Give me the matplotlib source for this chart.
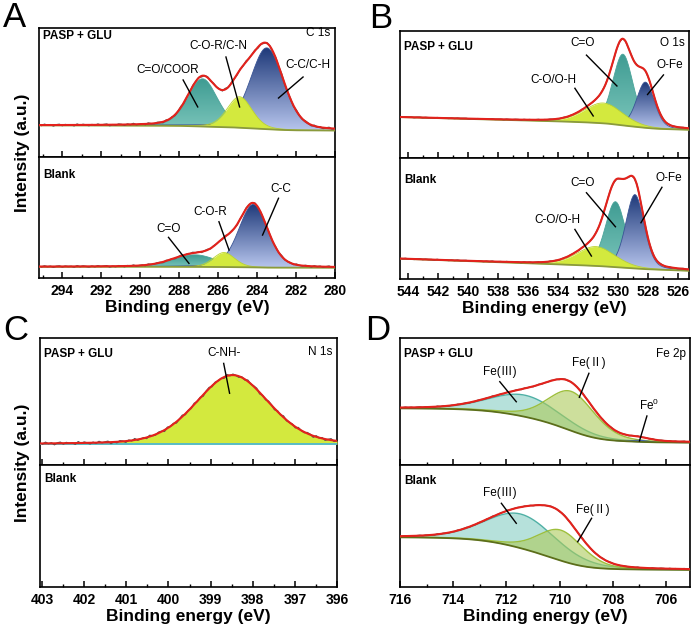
import numpy as np
import matplotlib
matplotlib.use("Agg")
import matplotlib.pyplot as plt
from matplotlib.colors import LinearSegmentedColormap
from matplotlib.ticker import MultipleLocator

plt.rcParams['font.family'] = ['Liberation Sans', 'Noto Sans CJK SC', 'DejaVu Sans']
plt.rcParams['mathtext.fontset'] = 'custom'
plt.rcParams['mathtext.rm'] = 'Liberation Sans'

# ---- fit parameters (y in panel fraction) ----
# C 1s
c1s_top_center = [286.8, 284.9, 283.5]
c1s_top_height = [0.37, 0.24, 0.63]
c1s_top_fwhm = [1.8, 1.5, 2.0]
c1s_top_bg = [0.205, 0.035, 0.005]   # low level, shirley step, linear tilt
c1s_bot_center = [287.2, 285.7, 284.2]
c1s_bot_height = [0.10, 0.12, 0.52]
c1s_bot_fwhm = [2.6, 1.3, 1.75]
c1s_bot_bg = [0.085, 0.008, 0.0]
c1s_styles = ['teal', 'lime', 'blue']

# O 1s
o1s_top_center = [531.0, 529.7, 528.2]
o1s_top_height = [0.16, 0.56, 0.36]
o1s_top_fwhm = [3.0, 1.6, 1.4]
o1s_top_bg = [0.222, 0.04, 0.06]
o1s_bot_center = [531.5, 530.2, 528.9]
o1s_bot_height = [0.16, 0.54, 0.61]
o1s_bot_fwhm = [3.0, 1.6, 1.45]
o1s_bot_bg = [0.068, 0.015, 0.085]
o1s_styles = ['lime', 'teal', 'blue']

# N 1s
n1s_top_center = [398.48]
n1s_top_height = [0.545]
n1s_top_fwhm = [2.05]
n1s_top_bg = [0.163, 0.0, 0.0]
n1s_styles = ['lime']

# Fe 2p
fe_top_center = [711.3, 709.55, 707.0]
fe_top_height = [0.17, 0.31, 0.02]
fe_top_fwhm = [3.1, 2.1, 1.0]
fe_top_bg = [0.176, 0.27, 0.0]
fe_top_styles = ['fe3', 'fe2', 'fe0']
fe_bot_center = [711.45, 709.95]
fe_bot_height = [0.28, 0.25]
fe_bot_fwhm = [3.1, 2.0]
fe_bot_bg = [0.14, 0.267, 0.0]
fe_bot_styles = ['fe3', 'fe2']

# hand-read wiggle of the raw spectrum (relative units)
raw_noise = [0.2, -0.6, 0.9, 0.1, -0.8, 0.5, -0.2, 0.7, -0.9, 0.3,
             0.6, -0.4, -0.1, 0.8, -0.7, 0.4, 0.0, -0.5, 0.9, -0.3,
             0.5, -0.8, 0.2, 0.6, -0.6, 0.1, -0.9, 0.7, 0.3, -0.2,
             0.8, -0.5, 0.4, -0.7, 0.0, 0.6, -0.3, 0.9, -0.8, 0.2,
             -0.1, 0.5, -0.6, 0.7, 0.3, -0.9, 0.4, -0.2, 0.8, -0.4]

# annotations: (text, text_x, text_y, line_x0, line_y0, line_x1, line_y1)
c1s_top_notes = [('C=O/COOR', 288.6, 0.674, 287.8, 0.597, 287.05, 0.388),
                 ('C-O-R/C-N', 286.0, 0.86, 285.6, 0.775, 284.9, 0.388),
                 ('C-C/C-H', 281.4, 0.713, 281.64, 0.62, 282.9, 0.457)]
c1s_bot_notes = [('C=O', 288.55, 0.405, 288.55, 0.336, 287.5, 0.121),
                 ('C-O-R', 286.4, 0.543, 285.96, 0.465, 285.44, 0.231),
                 ('C-C', 282.8, 0.733, 282.9, 0.659, 283.72, 0.355)]
o1s_top_notes = [('C=O', 532.4, 0.903, 532.13, 0.81, 530.1, 0.567),
                 ('C-O/O-H', 534.3, 0.614, 532.9, 0.549, 531.68, 0.331),
                 ('O-Fe', 526.6, 0.732, 527.0, 0.654, 528.06, 0.50)]
o1s_bot_notes = [('C=O', 532.4, 0.79, 532.13, 0.713, 530.2, 0.432),
                 ('C-O/O-H', 534.05, 0.488, 532.9, 0.41, 531.8, 0.19),
                 ('O-Fe', 526.67, 0.832, 527.1, 0.758, 528.5, 0.465)]
n1s_top_notes = [('C-NH-', 398.67, 0.88, 398.69, 0.80, 398.55, 0.565)]
fe_top_notes = [('Fe(Ⅲ)', 712.25, 0.735, 712.25, 0.656, 711.63, 0.498),
                ('Fe(Ⅱ)', 708.9, 0.80, 708.9, 0.722, 709.26, 0.533),
                ('Fe$^{\\mathregular{0}}$', 706.64, 0.472, 706.72, 0.386, 707.0, 0.189)]
fe_bot_notes = [('Fe(Ⅲ)', 712.25, 0.768, 712.19, 0.686, 711.63, 0.522),
                ('Fe(Ⅱ)', 708.76, 0.631, 708.8, 0.563, 709.32, 0.371)]


def gl(E, c, h, w, m=0.25):
    x = (E - c) / w
    return h * ((1 - m) * np.exp(-4 * np.log(2) * x ** 2) + m / (1 + 4 * x ** 2))


def grad_fill(ax, E, lo, hi, c_top, c_bot, z):
    poly = ax.fill_between(E, lo, hi, facecolor='none', edgecolor='none', zorder=z)
    cmap = LinearSegmentedColormap.from_list('g', [c_bot, c_top])
    grad = np.linspace(0, 1, 256).reshape(-1, 1)
    im = ax.imshow(grad, extent=[E.min(), E.max(), lo.min(), hi.max()], origin='lower',
                   aspect='auto', cmap=cmap, zorder=z, interpolation='bilinear')
    im.set_clip_path(poly.get_paths()[0], transform=ax.transData)


def spectrum(ax, xlim, centers, heights, fwhms, bgp, styles, noise_amp, bg_color):
    E = np.linspace(min(xlim), max(xlim), 700)
    comps = [gl(E, c, h, w) for c, h, w in zip(centers, heights, fwhms)]
    total = np.sum(comps, axis=0)
    cum = np.cumsum(total)
    bg = bgp[0] + bgp[1] * cum / cum[-1] + bgp[2] * (E - E[0]) / (E[-1] - E[0])
    for i, (comp, st) in enumerate(zip(comps, styles)):
        z = 2 + i
        hi = bg + comp
        if st == 'blue':
            grad_fill(ax, E, bg, hi, '#1f3a7a', '#b8c6ee', z)
            ax.plot(E, hi, color='#3a5596', lw=0.6, zorder=z)
        elif st == 'teal':
            grad_fill(ax, E, bg, hi, '#3f9c93', '#7cc6bb', z)
            ax.plot(E, hi, color='#4aa49a', lw=0.6, zorder=z)
        elif st == 'lime':
            # the lime component sits in front of the others
            ax.fill_between(E, bg, hi, color='#d3e93e', lw=0, zorder=5.5)
            ax.plot(E, hi, color='#bcd42c', lw=0.6, zorder=5.5)
        elif st == 'fe3':
            ax.fill_between(E, bg, hi, color='#86cec4', alpha=0.6, lw=0, zorder=z)
            ax.plot(E, hi, color='#4fb0a5', lw=1.0, zorder=z)
        elif st == 'fe2':
            ax.fill_between(E, bg, hi, color='#acca5a', alpha=0.6, lw=0, zorder=z)
            ax.plot(E, hi, color='#9ebf3c', lw=1.0, zorder=z)
        elif st == 'fe0':
            ax.fill_between(E, bg, hi, color='#4565b0', lw=0, zorder=z)
    ax.plot(E, bg, color=bg_color, lw=1.3, zorder=6)
    env = bg + total
    Er = E[::7]
    noise = np.resize(np.array(raw_noise), len(Er))
    ax.plot(Er, env[::7] + noise_amp * noise, color='#555555', lw=1.0, zorder=7)
    ax.plot(E, env, color='#e3221c', lw=1.5, zorder=8)


def notes(ax, items):
    for t, tx, ty, x0, y0, x1, y1 in items:
        ax.text(tx, ty, t, fontsize=8.5, ha='center', va='center', zorder=10)
        ax.plot([x0, x1], [y0, y1], color='black', lw=1.0, zorder=10)


def style_axis(ax, xlim, major, minor, labels):
    ax.set_xlim(xlim)
    ax.set_ylim(0, 1)
    ax.set_yticks([])
    ax.xaxis.set_major_locator(MultipleLocator(major))
    ax.xaxis.set_minor_locator(MultipleLocator(minor))
    ax.tick_params(axis='x', which='major', direction='in', length=4, width=1.1,
                   labelsize=10, pad=4, labelbottom=labels)
    ax.tick_params(axis='x', which='minor', direction='in', length=2.5, width=1.0)
    for lab in ax.get_xticklabels():
        lab.set_fontweight('bold')
    for s in ax.spines.values():
        s.set_linewidth(1.2)
    if labels:
        ax.set_xlabel('Binding energy (eV)', fontsize=12.5, fontweight='bold', labelpad=2)


fig = plt.figure(figsize=(6.93, 6.3), dpi=100)

panels = [
    # letter, letter pos, left, width, top bottom/height, bottom bottom/height, xlim, major, minor
    ('A', (0.004, 0.957), 0.0563, 0.4271, (0.7508, 0.2048), (0.5587, 0.1921), (295.2, 280), 2, 1),
    ('B', (0.533, 0.955), 0.5772, 0.4170, (0.7492, 0.2016), (0.5571, 0.1921), (544.55, 525.3), 2, 1),
    ('C', (0.004, 0.460), 0.0577, 0.4286, (0.2619, 0.2016), (0.0683, 0.1936), (403.05, 396), 1, 0.5),
    ('D', (0.527, 0.460), 0.5772, 0.4185, (0.2619, 0.2016), (0.0683, 0.1936), (716, 705.1), 2, 1),
]

axes = {}
for letter, lpos, left, width, tb, bb, xlim, mj, mn in panels:
    axt = fig.add_axes([left, tb[0], width, tb[1]])
    axb = fig.add_axes([left, bb[0], width, bb[1]])
    axes[letter] = (axt, axb, xlim, mj, mn)
    fig.text(lpos[0], lpos[1], letter, fontsize=25, va='baseline', ha='left')

# A: C 1s
axt, axb, xl, mj, mn = axes['A']
spectrum(axt, xl, c1s_top_center, c1s_top_height, c1s_top_fwhm, c1s_top_bg, c1s_styles, 0.008, '#8a9a3c')
spectrum(axb, xl, c1s_bot_center, c1s_bot_height, c1s_bot_fwhm, c1s_bot_bg, c1s_styles, 0.007, '#8a9a3c')
notes(axt, c1s_top_notes)
notes(axb, c1s_bot_notes)
axt.text(0.015, 0.915, 'PASP + GLU', transform=axt.transAxes, fontsize=8.5, fontweight='bold')
axt.text(0.985, 0.935, 'C 1s', transform=axt.transAxes, fontsize=8.5, ha='right')
axb.text(0.015, 0.826, 'Blank', transform=axb.transAxes, fontsize=8.5, fontweight='bold')

# B: O 1s
axt, axb, xl, mj, mn = axes['B']
spectrum(axt, xl, o1s_top_center, o1s_top_height, o1s_top_fwhm, o1s_top_bg, o1s_styles, 0.003, '#8a9a3c')
spectrum(axb, xl, o1s_bot_center, o1s_bot_height, o1s_bot_fwhm, o1s_bot_bg, o1s_styles, 0.004, '#8a9a3c')
notes(axt, o1s_top_notes)
notes(axb, o1s_bot_notes)
axt.text(0.015, 0.85, 'PASP + GLU', transform=axt.transAxes, fontsize=8.5, fontweight='bold')
axt.text(0.985, 0.88, 'O 1s', transform=axt.transAxes, fontsize=8.5, ha='right')
axb.text(0.015, 0.79, 'Blank', transform=axb.transAxes, fontsize=8.5, fontweight='bold')

# C: N 1s
axt, axb, xl, mj, mn = axes['C']
spectrum(axt, xl, n1s_top_center, n1s_top_height, n1s_top_fwhm, n1s_top_bg, n1s_styles, 0.012, '#4fb8d0')
notes(axt, n1s_top_notes)
axt.text(0.015, 0.853, 'PASP + GLU', transform=axt.transAxes, fontsize=8.5, fontweight='bold')
axt.text(0.985, 0.866, 'N 1s', transform=axt.transAxes, fontsize=8.5, ha='right')
axb.text(0.015, 0.863, 'Blank', transform=axb.transAxes, fontsize=8.5, fontweight='bold')

# D: Fe 2p
axt, axb, xl, mj, mn = axes['D']
spectrum(axt, xl, fe_top_center, fe_top_height, fe_top_fwhm, fe_top_bg, fe_top_styles, 0.004, '#5c6e1a')
spectrum(axb, xl, fe_bot_center, fe_bot_height, fe_bot_fwhm, fe_bot_bg, fe_bot_styles, 0.004, '#5c6e1a')
notes(axt, fe_top_notes)
notes(axb, fe_bot_notes)
axt.text(0.015, 0.853, 'PASP + GLU', transform=axt.transAxes, fontsize=8.5, fontweight='bold')
axt.text(0.985, 0.853, 'Fe 2p', transform=axt.transAxes, fontsize=8.5, ha='right')
axb.text(0.015, 0.844, 'Blank', transform=axb.transAxes, fontsize=8.5, fontweight='bold')

for letter in 'ABCD':
    axt, axb, xl, mj, mn = axes[letter]
    style_axis(axt, xl, mj, mn, False)
    style_axis(axb, xl, mj, mn, True)

fig.text(0.032, 0.757, 'Intensity (a.u.)', rotation=90, fontsize=12.5, fontweight='bold',
         ha='center', va='center')
fig.text(0.032, 0.266, 'Intensity (a.u.)', rotation=90, fontsize=12.5, fontweight='bold',
         ha='center', va='center')

fig.savefig('out.png', dpi=100)
